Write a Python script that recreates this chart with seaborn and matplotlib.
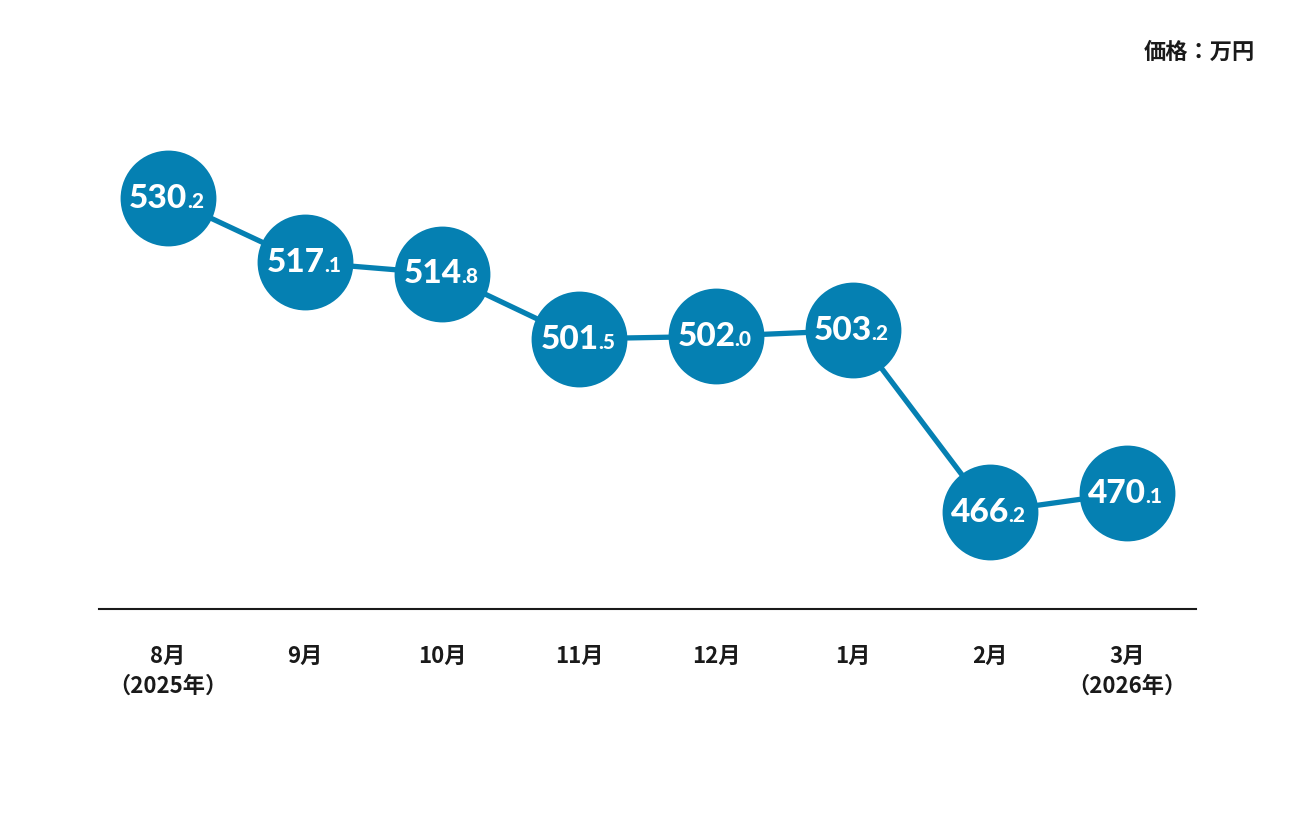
import seaborn as sns
import matplotlib.pyplot as plt
import pandas as pd

months = ['8月\n（2025年）', '9月', '10月', '11月', '12月', '1月', '2月', '3月\n（2026年）']
prices = [530.2, 517.1, 514.8, 501.5, 502.0, 503.2, 466.2, 470.1]
unit_label = '価格：万円'

blue = '#0580b2'
ink = '#1a1a1a'

sns.set_theme(style='white')
plt.rcParams['font.family'] = ['Noto Sans CJK JP', 'DejaVu Sans']

df = pd.DataFrame({'x': range(len(months)), 'price': prices})

fig = plt.figure(figsize=(12.96, 8.16), dpi=100)
ax = fig.add_axes([99 / 1296, 207 / 816, 1097 / 1296, 509 / 816])

sns.lineplot(data=df, x='x', y='price', color=blue, linewidth=3.8,
             marker='o', markersize=69, markeredgewidth=0, ax=ax)

# number inside each circle: big integer part + small decimal
for i, v in enumerate(prices):
    whole, dec = f'{v:.1f}'.split('.')
    ax.annotate(whole, (i, v), xytext=(14, -7), textcoords='offset points',
                ha='right', va='baseline', color='white', fontsize=24,
                fontweight='black', family='Lato')
    ax.annotate('.' + dec, (i, v), xytext=(13.5, -7), textcoords='offset points',
                ha='left', va='baseline', color='white', fontsize=15,
                fontweight='black', family='Lato')

ax.set_xlim(-0.504, 7.504)
ax.set_ylim(446.4, 550.2)
ax.set_xticks(range(len(months)))
ax.set_xticklabels(months, fontsize=16, fontweight='bold', color=ink, linespacing=1.38)
ax.tick_params(axis='x', length=0, pad=26)
ax.set_yticks([])
ax.set_xlabel('')
ax.set_ylabel('')
for side in ['top', 'left', 'right']:
    ax.spines[side].set_visible(False)
ax.spines['bottom'].set_color(ink)
ax.spines['bottom'].set_linewidth(1.5)

fig.text(1255 / 1296, 1 - 52 / 816, unit_label, ha='right', va='center',
         fontsize=16, fontweight='bold', color=ink)

fig.savefig('out.png', dpi=100)
